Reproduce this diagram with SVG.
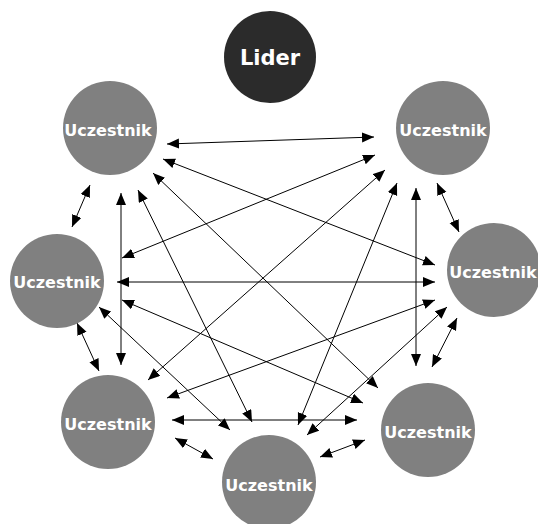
<svg xmlns="http://www.w3.org/2000/svg" width="538" height="524" viewBox="0 0 538 524">
  <style>
    .member circle { fill: #808080; }
    .leader circle { fill: #2b2b2b; }
    .label { font-family: "DejaVu Sans", Verdana, sans-serif; font-weight: bold; fill: #ffffff; text-anchor: middle; }
    .member .label { font-size: 16px; }
    .leader .label { font-size: 21px; }
    #connectors line { stroke: #000; stroke-width: 1; fill: none; marker-start: url(#head); marker-end: url(#head); }
  </style>
  <defs>
    <marker id="head" markerUnits="userSpaceOnUse" markerWidth="13" markerHeight="11" refX="12" refY="5" orient="auto-start-reverse">
      <path d="M0,0 L12,5 L0,10 Z" fill="#000"/>
    </marker>
  </defs>
  <rect width="538" height="524" fill="#ffffff"/>

  <!-- two-way links between every pair of participants -->
  <g id="connectors">
    <line x1="167" y1="144" x2="374" y2="137"/>
    <line x1="90" y1="185" x2="72" y2="227"/>
    <line x1="163" y1="159" x2="435" y2="265"/>
    <line x1="121" y1="193" x2="121" y2="365"/>
    <line x1="138" y1="190" x2="252" y2="422"/>
    <line x1="153" y1="173" x2="378" y2="388"/>
    <line x1="375" y1="155" x2="122" y2="258"/>
    <line x1="437" y1="183" x2="459" y2="232"/>
    <line x1="385" y1="170" x2="148" y2="380"/>
    <line x1="397" y1="183" x2="298" y2="425"/>
    <line x1="416" y1="188" x2="416" y2="366"/>
    <line x1="117" y1="282" x2="435" y2="282"/>
    <line x1="77" y1="323" x2="99" y2="371"/>
    <line x1="99" y1="307" x2="230" y2="430"/>
    <line x1="122" y1="300" x2="363" y2="403"/>
    <line x1="167" y1="398" x2="435" y2="300"/>
    <line x1="447" y1="307" x2="307" y2="435"/>
    <line x1="457" y1="318" x2="432" y2="367"/>
    <line x1="175" y1="438" x2="213" y2="459"/>
    <line x1="172" y1="420" x2="357" y2="420"/>
    <line x1="320" y1="457" x2="365" y2="440"/>
  </g>

  <g id="leader" class="leader">
    <circle cx="270" cy="57" r="46"/>
    <text class="label" x="270" y="65">Lider</text>
  </g>
  <g id="member-top-left" class="member">
    <circle cx="110" cy="128" r="47"/>
    <text class="label" x="108" y="136">Uczestnik</text>
  </g>
  <g id="member-top-right" class="member">
    <circle cx="443" cy="128" r="47"/>
    <text class="label" x="443" y="136">Uczestnik</text>
  </g>
  <g id="member-left" class="member">
    <circle cx="57" cy="281" r="47"/>
    <text class="label" x="57" y="288">Uczestnik</text>
  </g>
  <g id="member-right" class="member">
    <circle cx="494" cy="270" r="47"/>
    <text class="label" x="493" y="278">Uczestnik</text>
  </g>
  <g id="member-bottom-left" class="member">
    <circle cx="108" cy="422" r="47"/>
    <text class="label" x="108" y="430">Uczestnik</text>
  </g>
  <g id="member-bottom" class="member">
    <circle cx="269" cy="482" r="47"/>
    <text class="label" x="269" y="491">Uczestnik</text>
  </g>
  <g id="member-bottom-right" class="member">
    <circle cx="428" cy="430" r="47"/>
    <text class="label" x="428" y="438">Uczestnik</text>
  </g>
</svg>
